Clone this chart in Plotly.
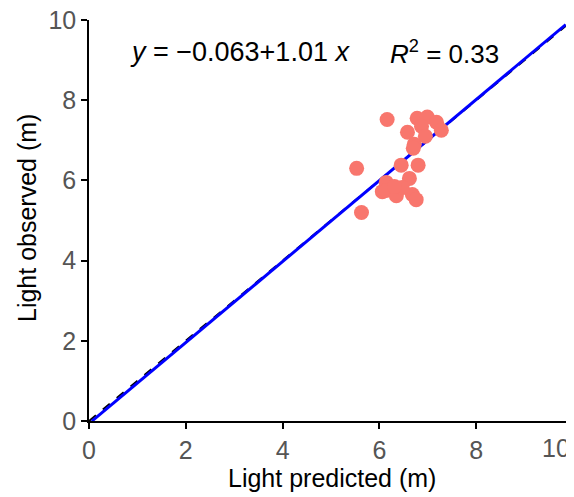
import plotly.graph_objects as go

# Observed vs predicted light depth (m)
pred = [6.16, 5.53, 5.63, 6.78, 6.99, 7.18, 6.58, 6.87, 7.28, 6.72, 6.70, 6.45,
        6.80, 6.62, 6.14, 6.06, 6.14, 6.35, 6.68, 6.76, 6.47, 6.31, 6.95]
obs = [7.52, 6.30, 5.20, 7.55, 7.58, 7.45, 7.20, 7.35, 7.25, 6.90, 6.80, 6.38,
       6.38, 6.05, 5.95, 5.72, 5.75, 5.62, 5.65, 5.52, 5.82, 5.85, 7.10]

intercept = -0.063
slope = 1.01
fit_x = [0.06, 9.85]
fit_y = [intercept + slope * v for v in fit_x]
one_to_one = [0, 10]

tick_vals = [0, 2, 4, 6, 8, 10]
tick_text = ["0", "2", "4", "6", "8", "10"]

FONT = "Liberation Sans, Arial, sans-serif"
TICK_COLOR = "#555555"

# page has an 8px body margin: figure is shifted by (8, 8)
OFF = 8
W, H = 574 - OFF, 497 - OFF
L, R, T, B = 89 - OFF, 1, 20 - OFF, 76
PW, PH = W - L - R, H - T - B


def px_to_paper(px, py):
    """page pixel -> paper coordinates"""
    fx, fy = px - OFF, py - OFF
    return (fx - L) / PW, (H - fy - B) / PH


fig = go.Figure()
fig.add_trace(go.Scatter(x=one_to_one, y=one_to_one, mode="lines",
                         line=dict(color="black", width=2, dash="dash"),
                         hoverinfo="skip", showlegend=False))
fig.add_trace(go.Scatter(x=fit_x, y=fit_y, mode="lines",
                         line=dict(color="#0000FF", width=3),
                         showlegend=False))
fig.add_trace(go.Scatter(x=pred, y=obs, mode="markers",
                         marker=dict(color="#F8766D", size=15, line=dict(width=0)),
                         showlegend=False))

axis_common = dict(range=[0, 10], tickvals=tick_vals,
                   showgrid=False, zeroline=False, showline=True,
                   linecolor="black", linewidth=1.5, ticks="outside",
                   ticklen=6, tickwidth=1.5, tickcolor="black", automargin=False,
                   ticklabeloverflow="allow",
                   tickfont=dict(family=FONT, size=25, color=TICK_COLOR))

# last x tick label is drawn pulled inside the page edge, as in the source
x_tick_text = tick_text[:-1] + [""]

xt_x, xt_y = px_to_paper(332, 478)
yt_x, yt_y = px_to_paper(27, 218)
x10_x, x10_y = px_to_paper(571, 448)

fig.update_layout(
    width=W, height=H,
    margin=dict(l=L, r=R, t=T, b=B),
    paper_bgcolor="white", plot_bgcolor="white",
    xaxis=dict(**axis_common, ticktext=x_tick_text),
    yaxis=dict(**axis_common, ticktext=tick_text),
    annotations=[
        dict(x=0.81, y=9.2, xref="x", yref="y", xanchor="left", yanchor="middle",
             text="<i>y</i> = \u22120.063+1.01 <i>x</i>", showarrow=False,
             font=dict(family=FONT, size=27, color="black")),
        dict(x=6.18, y=9.2, xref="x", yref="y", xanchor="left", yanchor="middle",
             text="<i>R</i><sup>2</sup> = 0.33", showarrow=False,
             font=dict(family=FONT, size=26, color="black")),
        dict(x=xt_x, y=xt_y, xref="paper", yref="paper", showarrow=False,
             text="Light predicted (m)", xanchor="center", yanchor="middle",
             font=dict(family=FONT, size=25, color="black")),
        dict(x=yt_x, y=yt_y, xref="paper", yref="paper", showarrow=False,
             text="Light observed (m)", textangle=-90, xanchor="center",
             yanchor="middle", font=dict(family=FONT, size=25, color="black")),
        dict(x=x10_x, y=x10_y, xref="paper", yref="paper", showarrow=False,
             text=tick_text[-1], xanchor="right", yanchor="middle", borderpad=0,
             font=dict(family=FONT, size=25, color=TICK_COLOR)),
    ],
)

fig.write_html("out.html")
